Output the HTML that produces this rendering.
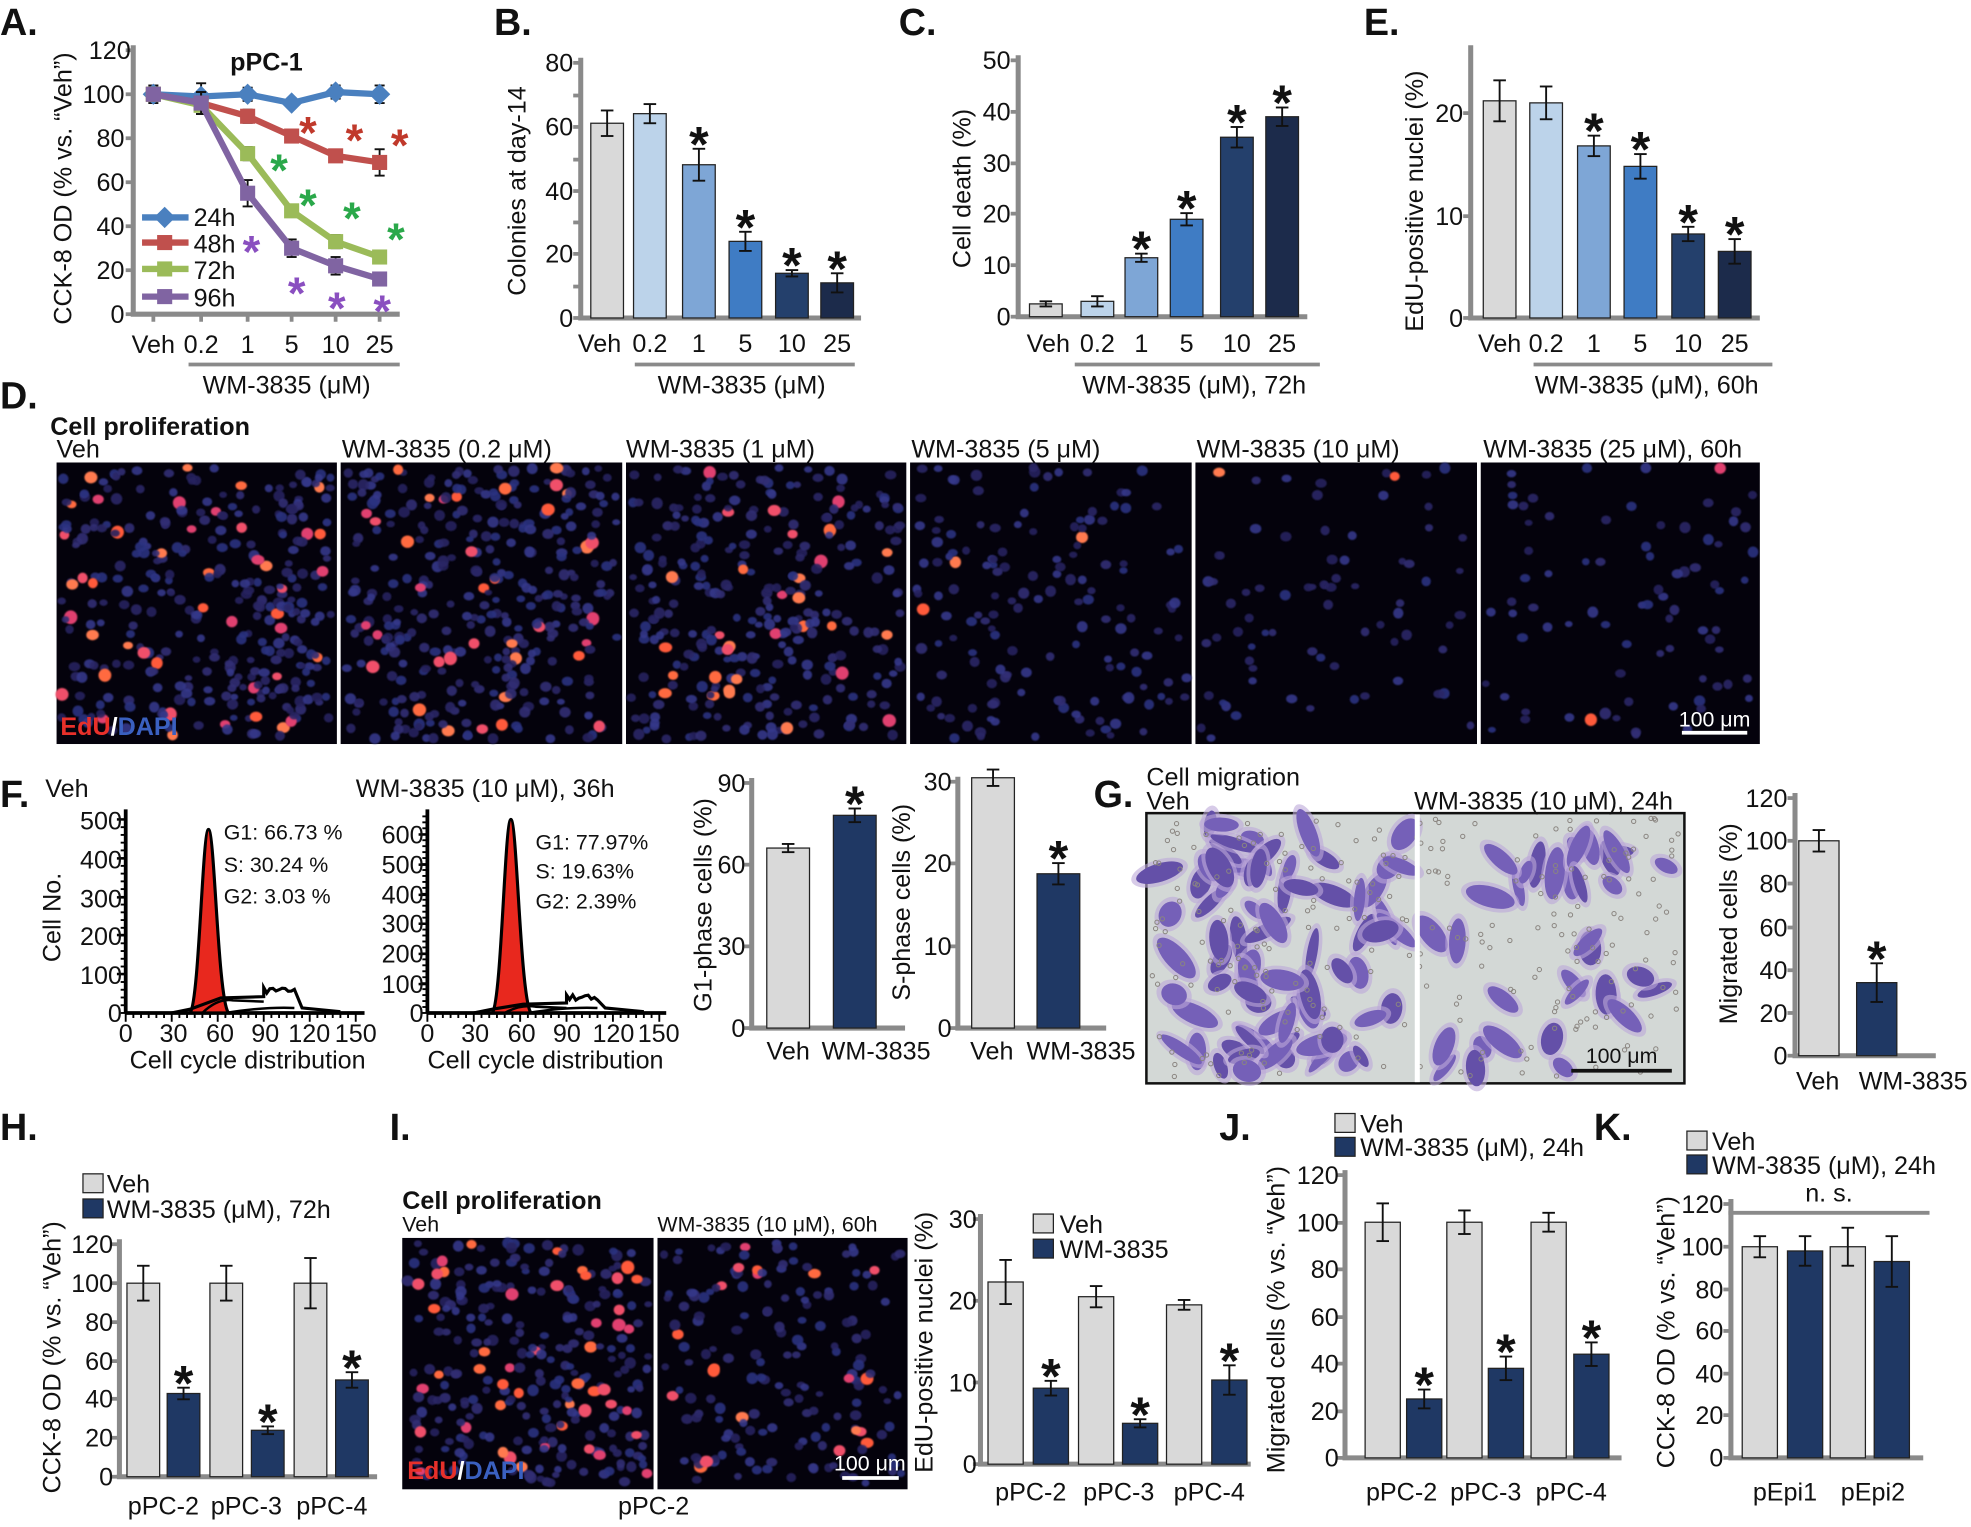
<!DOCTYPE html>
<html><head><meta charset="utf-8"><style>
html,body{margin:0;padding:0;background:#fff}
svg{display:block}
text{font-family:"Liberation Sans",Arial,sans-serif;fill:#111}
.t{font-size:20px}
.s{font-size:17px}
.L{font-size:30px;font-weight:bold}
.b{font-weight:bold}
.m{text-anchor:middle}
.e{text-anchor:end}
</style></head><body>
<svg id="s" xmlns="http://www.w3.org/2000/svg" width="1971" height="1527" viewBox="0 0 1568 1215" preserveAspectRatio="none">
<defs><filter id="bl" x="-50%" y="-50%" width="200%" height="200%"><feGaussianBlur stdDeviation="0.7"/></filter></defs>
<g id="g"></g>
<text class="L" x="0" y="28">A.</text><text class="L" x="393" y="28">B.</text><text class="L" x="715" y="28">C.</text><text class="L" x="1085" y="28">E.</text>
<text class="L" x="0" y="325">D.</text><text class="L" x="0" y="642">F.</text><text class="L" x="870" y="642">G.</text>
<text class="L" x="0" y="907">H.</text><text class="L" x="310" y="907">I.</text><text class="L" x="970" y="907">J.</text><text class="L" x="1268" y="907">K.</text>
<!-- A -->
<text class="t b m" x="212" y="56">pPC-1</text>
<g class="t e"><text x="104" y="47">120</text><text x="99" y="82">100</text><text x="99" y="117">80</text><text x="99" y="152">60</text><text x="99" y="187">40</text><text x="99" y="222">20</text><text x="99" y="257">0</text></g>
<g class="t m"><text x="122" y="281">Veh</text><text x="160" y="281">0.2</text><text x="197" y="281">1</text><text x="232" y="281">5</text><text x="267" y="281">10</text><text x="302" y="281">25</text><text x="228" y="313">WM-3835 (μM)</text></g>
<text class="t m" transform="translate(57,150) rotate(-90)">CCK-8 OD (% vs. “Veh”)</text>
<g class="t"><text x="154" y="180">24h</text><text x="154" y="201">48h</text><text x="154" y="222">72h</text><text x="154" y="244">96h</text></g>
<!-- B -->
<g class="t e"><text x="456" y="57">80</text><text x="456" y="108">60</text><text x="456" y="159">40</text><text x="456" y="209">20</text><text x="456" y="260">0</text></g>
<g class="t m"><text x="477" y="280">Veh</text><text x="517" y="280">0.2</text><text x="556" y="280">1</text><text x="593" y="280">5</text><text x="630" y="280">10</text><text x="666" y="280">25</text><text x="590" y="313">WM-3835 (μM)</text></g>
<text class="t m" transform="translate(418,152) rotate(-90)">Colonies at day-14</text>
<!-- C -->
<g class="t e"><text x="804" y="55">50</text><text x="804" y="96">40</text><text x="804" y="137">30</text><text x="804" y="177">20</text><text x="804" y="218">10</text><text x="804" y="259">0</text></g>
<g class="t m"><text x="834" y="280">Veh</text><text x="873" y="280">0.2</text><text x="908" y="280">1</text><text x="944" y="280">5</text><text x="984" y="280">10</text><text x="1020" y="280">25</text><text x="950" y="313">WM-3835 (μM), 72h</text></g>
<text class="t m" transform="translate(772,150) rotate(-90)">Cell death (%)</text>
<!-- E -->
<g class="t e"><text x="1164" y="97">20</text><text x="1164" y="179">10</text><text x="1164" y="260">0</text></g>
<g class="t m"><text x="1193" y="280">Veh</text><text x="1230" y="280">0.2</text><text x="1268" y="280">1</text><text x="1305" y="280">5</text><text x="1343" y="280">10</text><text x="1380" y="280">25</text><text x="1310" y="313">WM-3835 (μM), 60h</text></g>
<text class="t m" transform="translate(1132,160) rotate(-90)">EdU-positive nuclei (%)</text>
<!-- D -->
<text class="t b" x="40" y="346">Cell proliferation</text>
<g class="t"><text x="45" y="364">Veh</text><text x="272" y="364">WM-3835 (0.2 μM)</text><text x="498" y="364">WM-3835 (1 μM)</text><text x="725" y="364">WM-3835 (5 μM)</text><text x="952" y="364">WM-3835 (10 μM)</text><text x="1180" y="364">WM-3835 (25 μM), 60h</text></g>
<!-- F -->
<text class="t" x="36" y="634">Veh</text><text class="t" x="283" y="634">WM-3835 (10 μM), 36h</text>
<g class="t e"><text x="97" y="660">500</text><text x="97" y="691">400</text><text x="97" y="722">300</text><text x="97" y="752">200</text><text x="97" y="783">100</text><text x="97" y="813">0</text></g>
<g class="t m"><text x="100" y="829">0</text><text x="138" y="829">30</text><text x="175" y="829">60</text><text x="211" y="829">90</text><text x="246" y="829">120</text><text x="283" y="829">150</text></g>
<text class="t m" x="197" y="850">Cell cycle distribution</text>
<text class="t m" transform="translate(48,730) rotate(-90)">Cell No.</text>
<g class="s"><text x="178" y="668">G1: 66.73 %</text><text x="178" y="694">S: 30.24 %</text><text x="178" y="719">G2: 3.03 %</text></g>
<g class="t e"><text x="337" y="671">600</text><text x="337" y="695">500</text><text x="337" y="719">400</text><text x="337" y="742">300</text><text x="337" y="766">200</text><text x="337" y="790">100</text><text x="337" y="813">0</text></g>
<g class="t m"><text x="340" y="829">0</text><text x="378" y="829">30</text><text x="415" y="829">60</text><text x="451" y="829">90</text><text x="488" y="829">120</text><text x="524" y="829">150</text></g>
<text class="t m" x="434" y="850">Cell cycle distribution</text>
<g class="s"><text x="426" y="676">G1: 77.97%</text><text x="426" y="699">S: 19.63%</text><text x="426" y="723">G2: 2.39%</text></g>
<g class="t e"><text x="593" y="630">90</text><text x="593" y="695">60</text><text x="593" y="760">30</text><text x="593" y="825">0</text></g>
<g class="t m"><text x="627" y="843">Veh</text><text x="697" y="843">WM-3835</text></g>
<text class="t m" transform="translate(566,720) rotate(-90)">G1-phase cells (%)</text>
<g class="t e"><text x="757" y="629">30</text><text x="757" y="694">20</text><text x="757" y="760">10</text><text x="757" y="825">0</text></g>
<g class="t m"><text x="789" y="843">Veh</text><text x="860" y="843">WM-3835</text></g>
<text class="t m" transform="translate(724,718) rotate(-90)">S-phase cells (%)</text>
<!-- G -->
<text class="t" x="912" y="625">Cell migration</text><text class="t" x="912" y="644">Veh</text><text class="t" x="1125" y="644">WM-3835 (10 μM), 24h</text>
<g class="t e"><text x="1422" y="642">120</text><text x="1422" y="676">100</text><text x="1422" y="710">80</text><text x="1422" y="745">60</text><text x="1422" y="779">40</text><text x="1422" y="813">20</text><text x="1422" y="847">0</text></g>
<g class="t m"><text x="1446" y="867">Veh</text><text x="1522" y="867">WM-3835</text></g>
<text class="t m" transform="translate(1382,735) rotate(-90)">Migrated cells (%)</text>
<!-- H -->
<g class="t"><text x="85" y="949">Veh</text><text x="85" y="969">WM-3835 (μM), 72h</text></g>
<g class="t e"><text x="90" y="997">120</text><text x="90" y="1028">100</text><text x="90" y="1059">80</text><text x="90" y="1090">60</text><text x="90" y="1120">40</text><text x="90" y="1151">20</text><text x="90" y="1182">0</text></g>
<g class="t m"><text x="130" y="1205">pPC-2</text><text x="196" y="1205">pPC-3</text><text x="264" y="1205">pPC-4</text></g>
<text class="t m" transform="translate(48,1080) rotate(-90)">CCK-8 OD (% vs. “Veh”)</text>
<!-- I -->
<text class="t b" x="320" y="962">Cell proliferation</text>
<text class="s" x="320" y="980">Veh</text><text class="s" x="523" y="980">WM-3835 (10 μM), 60h</text>
<text class="t m" x="520" y="1205">pPC-2</text>
<g class="t e"><text x="777" y="977">30</text><text x="777" y="1042">20</text><text x="777" y="1107">10</text><text x="777" y="1172">0</text></g>
<g class="t"><text x="843" y="981">Veh</text><text x="843" y="1001">WM-3835</text></g>
<g class="t m"><text x="820" y="1194">pPC-2</text><text x="890" y="1194">pPC-3</text><text x="962" y="1194">pPC-4</text></g>
<text class="t m" transform="translate(742,1068) rotate(-90)">EdU-positive nuclei (%)</text>
<!-- J -->
<g class="t"><text x="1082" y="901">Veh</text><text x="1082" y="920">WM-3835 (μM), 24h</text></g>
<g class="t e"><text x="1065" y="942">120</text><text x="1065" y="980">100</text><text x="1065" y="1017">80</text><text x="1065" y="1055">60</text><text x="1065" y="1092">40</text><text x="1065" y="1130">20</text><text x="1065" y="1167">0</text></g>
<g class="t m"><text x="1115" y="1194">pPC-2</text><text x="1182" y="1194">pPC-3</text><text x="1250" y="1194">pPC-4</text></g>
<text class="t m" transform="translate(1022,1050) rotate(-90)">Migrated cells (% vs. “Veh”)</text>
<!-- K -->
<g class="t"><text x="1362" y="915">Veh</text><text x="1362" y="934">WM-3835 (μM), 24h</text></g>
<text class="t m" x="1455" y="956">n. s.</text>
<g class="t e"><text x="1371" y="965">120</text><text x="1371" y="999">100</text><text x="1371" y="1033">80</text><text x="1371" y="1066">60</text><text x="1371" y="1100">40</text><text x="1371" y="1133">20</text><text x="1371" y="1167">0</text></g>
<g class="t m"><text x="1420" y="1194">pEpi1</text><text x="1490" y="1194">pEpi2</text></g>
<text class="t m" transform="translate(1332,1060) rotate(-90)">CCK-8 OD (% vs. “Veh”)</text>
<text class="t b" x="48" y="585" style="fill:#e8302a">EdU<tspan style="fill:#fff">/</tspan><tspan style="fill:#3a60c0">DAPI</tspan></text>
<text class="s m" x="1364" y="578" style="fill:#fff">100 μm</text>
<text class="s m" x="1290" y="846">100 μm</text>
<text class="t b" x="324" y="1177" style="fill:#e8302a">EdU<tspan style="fill:#fff">/</tspan><tspan style="fill:#3a60c0">DAPI</tspan></text>
<text class="s m" x="692" y="1170" style="fill:#fff">100 μm</text>
</svg>
<script>
var NS="http://www.w3.org/2000/svg",G=document.getElementById("g");
function el(t,a,p){var e=document.createElementNS(NS,t);for(var k in a)e.setAttribute(k,a[k]);(p||G).appendChild(e);return e}
var AX="#8a8a8a";
function axis(x,y0,yt,ticks,xe,col){col=col||AX;el("line",{x1:x,y1:yt-4,x2:x,y2:y0,stroke:col,"stroke-width":4});el("line",{x1:x-2,y1:y0,x2:xe,y2:y0,stroke:col,"stroke-width":4});ticks.forEach(function(t){el("line",{x1:x-6,y1:t,x2:x,y2:t,stroke:col,"stroke-width":3})})}
function star(x,y,c,sz){var t=el("text",{x:x,y:y,"text-anchor":"middle","font-size":sz||40,"font-weight":"bold",style:"fill:"+(c||"#111")});t.textContent="*"}
function bar(cx,w,y0,sc,v,er,c,st){var top=y0-v*sc;el("rect",{x:cx-w/2,y:top,width:w,height:v*sc,fill:c,stroke:"#222","stroke-width":1});if(er){el("line",{x1:cx,y1:top-er*sc,x2:cx,y2:top+er*sc,stroke:"#111","stroke-width":1.5});[top-er*sc,top+er*sc].forEach(function(y){el("line",{x1:cx-5,y1:y,x2:cx+5,y2:y,stroke:"#111","stroke-width":1.5})})}
 if(st)star(cx,top-er*sc+10);}
function hl(x1,x2,y){el("line",{x1:x1,y1:y,x2:x2,y2:y,stroke:AX,"stroke-width":3})}
var P=["#d9d9d9","#bcd3ea","#7ea6d6","#3f7cc4","#24406c","#1c2b4b"],GR="#d9d9d9",NV="#1f3864";
// A
axis(106,250,40,[40,75,110,145,180,215,250],318);
[122,160,197,232,267,302].forEach(function(x){el("line",{x1:x,y1:250,x2:x,y2:256,stroke:AX,"stroke-width":3})});
hl(150,318,290);
var X=[122,160,197,232,267,302];
var S=[[100,99,100,96,101,100],[100,96,90,81,72,69],[100,95,73,47,33,26],[100,96,55,30,22,16]];
var C=["#4a80bf","#c0504d","#9bbb59","#8064a2"];
var E=[[4,6,3,2,3,4],[3,5,3,2,2,6],[2,4,3,2,3,2],[2,5,6,4,4,2]];
S.forEach(function(s,i){var pts=s.map(function(v,j){return X[j]+","+(250-v*1.75)}).join(" ");
 s.forEach(function(v,j){var y=250-v*1.75,e=E[i][j]*1.75;el("line",{x1:X[j],y1:y-e,x2:X[j],y2:y+e,stroke:"#111","stroke-width":1.5});el("line",{x1:X[j]-4,y1:y-e,x2:X[j]+4,y2:y-e,stroke:"#111","stroke-width":1.5});el("line",{x1:X[j]-4,y1:y+e,x2:X[j]+4,y2:y+e,stroke:"#111","stroke-width":1.5})});
 el("polyline",{points:pts,fill:"none",stroke:C[i],"stroke-width":5});
 s.forEach(function(v,j){var y=250-v*1.75;el("rect",{x:X[j]-6,y:y-6,width:12,height:12,fill:C[i],transform:i==0?"rotate(45 "+X[j]+" "+y+")":""})});
 var ly=[173,193,214,236][i];el("line",{x1:113,y1:ly,x2:150,y2:ly,stroke:C[i],"stroke-width":5});el("rect",{x:125,y:ly-6,width:12,height:12,fill:C[i],transform:i==0?"rotate(45 131 "+ly+")":""});});
[[245,118],[282,124],[318,128]].forEach(function(p){star(p[0],p[1],"#c0392b",36)});
[[222,148],[245,176],[280,186],[315,203]].forEach(function(p){star(p[0],p[1],"#2aa84a",36)});
[[200,213],[236,246],[268,258],[304,260]].forEach(function(p){star(p[0],p[1],"#8a4fc0",36)});
// B
axis(462,253,50,[50,76,101,127,152,177,202,228,253],685);hl(505,680,290);
[[483,61,4],[517,64,3],[556,48,5,1],[593,24,3,1],[630,14,1,1],[666,11,3,1]].forEach(function(d,i){bar(d[0],26,253,2.54,d[1],d[2],P[i],d[3])});
// C
axis(810,252,48,[48,89,130,170,211,252],1040);hl(855,1050,290);
[[832,2.5,.5],[873,3,1],[908,11.5,.8,1],[944,19,1.2,1],[984,35,2,1],[1020,39,1.8,1]].forEach(function(d,i){bar(d[0],26,252,4.08,d[1],d[2],P[i],d[3])});
// E
axis(1170,253,40,[90,172,253],1400);hl(1220,1410,290);
[[1193,21.2,2],[1230,21,1.6],[1268,16.8,1,1],[1305,14.8,1.2,1],[1343,8.2,.7,1],[1380,6.5,1.2,1]].forEach(function(d,i){bar(d[0],26,253,8.15,d[1],d[2],P[i],d[3])});
// microscopy
var seed=7;function rnd(){seed=(seed*16807)%2147483647;return seed/2147483647}
var BL=["#2a2866","#302e74","#26245e","#34388a","#2c3380"],RD=["#ff6a40","#f0506a","#ff7a50","#e04070","#ff5a3a"];
function cells(x,y,w,h,n,rf){el("rect",{x:x,y:y,width:w,height:h,fill:"#04020c"});
 for(var i=0;i<n;i++){var cx=x+4+rnd()*(w-8),cy=y+4+rnd()*(h-8),r=3+rnd()*1.6,red=rnd()<rf;
 el("ellipse",{cx:cx,cy:cy,rx:red?r+0.8:r,ry:(red?r+0.8:r)*(0.75+rnd()*0.3),fill:red?RD[Math.floor(rnd()*5)]:BL[Math.floor(rnd()*5)],opacity:red?1:0.9,filter:"url(#bl)"})}}
var D=[[45,268,330,.15],[271,495,340,.1],[498,721,300,.09],[724,948,150,.04],[951,1175,75,.03],[1178,1400,80,.03]];
D.forEach(function(d){cells(d[0],368,d[1]-d[0],224,d[2],d[3])});
el("line",{x1:1338,y1:583,x2:1390,y2:583,stroke:"#fff","stroke-width":3});
cells(320,985,200,200,280,.15);cells(523,985,199,200,170,.08);
el("line",{x1:521.5,y1:985,x2:521.5,y2:1185,stroke:"#fff","stroke-width":3});
el("line",{x1:670,y1:1176,x2:715,y2:1176,stroke:"#fff","stroke-width":3});
// F histograms
function hist(x0,xu,yu,px,ph,xe,yticks){
 var yb=806;el("line",{x1:x0,y1:644,x2:x0,y2:yb,stroke:"#000","stroke-width":3});el("line",{x1:x0,y1:yb,x2:xe,y2:yb,stroke:"#000","stroke-width":3});
 for(var y=yb;y>646;y-=yu*20)el("line",{x1:x0-4,y1:y,x2:x0,y2:y,stroke:"#000","stroke-width":1.5});
 yticks.forEach(function(y){el("line",{x1:x0-7,y1:y,x2:x0,y2:y,stroke:"#000","stroke-width":2})});
 for(var u=0;u<=150;u+=5)el("line",{x1:x0+u*xu,y1:yb,x2:x0+u*xu,y2:yb+(u%30?4:7),stroke:"#000","stroke-width":1.5});
 function X(u){return x0+u*xu}
 var p="M"+X(42)+","+yb+" C"+X(48)+","+(yb-10)+" "+X(50)+","+ph+" "+X(54)+","+ph+" C"+X(58)+","+ph+" "+X(60)+","+(yb-12)+" "+X(67)+","+yb+" Z";
 el("path",{d:p,fill:"#e8281e",stroke:"#000","stroke-width":2.5});
 var sh=(px==1)?12:7;
 var q="M"+X(30)+","+yb+" L"+X(42)+","+(yb-3)+" L"+X(62)+","+(yb-sh)+" L"+X(90)+","+(yb-sh-1);
 for(var u=90;u<=110;u+=2)q+=" L"+X(u)+","+(yb-sh-3-rnd()*6);
 q+=" L"+X(115)+","+(yb-4)+" L"+X(140)+","+(yb-1);
 el("path",{d:q,fill:"none",stroke:"#000","stroke-width":2.5});
 el("path",{d:"M"+X(50)+","+yb+" Q"+X(60)+","+(yb-sh)+" "+X(70)+","+(yb-sh+2)+" L"+X(90)+","+(yb-sh+3),fill:"none",stroke:"#000","stroke-width":2});
 el("path",{d:"M"+X(65)+","+yb+" Q"+X(90)+","+(yb-5)+" "+X(110)+","+(yb-4),fill:"none",stroke:"#000","stroke-width":2});}
hist(100,1.22,0.308,1,660,290,[652,683,714,744,775]);hist(340,1.23,0.237,2,652,530,[664,688,712,735,759,783]);
// F bars
axis(598,818,623,[623,688,753,818],720);bar(627,34,818,2.17,66,1.5,GR);bar(680,34,818,2.17,78,2.5,NV,1);
axis(762,818,622,[622,687,753,818],880);bar(790,34,818,6.53,30.5,1,GR);bar(842,34,818,6.53,18.8,1.3,NV,1);
// G image
el("rect",{x:912,y:647,width:428,height:215,fill:"#d3d8d6",stroke:"#111","stroke-width":2});
function blobs(x,w,n){for(var i=0;i<n;i++){var cx=x+8+rnd()*(w-16),cy=655+rnd()*198,rx=9+rnd()*12,ry=4+rnd()*5,a=rnd()*180,tr="rotate("+a+" "+cx+" "+cy+")";
 el("ellipse",{cx:cx,cy:cy,rx:rx+4,ry:ry+3,fill:"#bda9d8",opacity:.6,transform:tr});
 el("ellipse",{cx:cx,cy:cy,rx:rx,ry:ry,fill:rnd()<.5?"#7560b8":"#6450a8",transform:tr})}}
blobs(913,213,75);blobs(1130,208,35);
for(var i=0;i<260;i++){var cx=915+rnd()*420,cy=650+rnd()*208;el("circle",{cx:cx,cy:cy,r:1.7,fill:"none",stroke:"#8a8580","stroke-width":.8})}
el("line",{x1:1127.5,y1:648,x2:1127.5,y2:861,stroke:"#fff","stroke-width":4});
el("line",{x1:1250,y1:852,x2:1330,y2:852,stroke:"#111","stroke-width":3});
// G bars
axis(1428,840,635,[635,669,703,738,772,806,840],1540);bar(1447,32,840,1.71,100,5,GR);bar(1493,32,840,1.71,34,9,NV,1);
// H
el("rect",{x:66,y:934,width:16,height:15,fill:GR,stroke:"#222"});el("rect",{x:66,y:954,width:16,height:15,fill:NV,stroke:"#222"});
axis(95,1175,990,[990,1021,1052,1083,1113,1144,1175],300);
[[114,100,9,GR],[146,43,3,NV,1],[180,100,9,GR],[213,24,2,NV,1],[247,100,13,GR],[280,50,4,NV,1]].forEach(function(d){bar(d[0],26,1175,1.54,d[1],d[2],d[3],d[4])});
// I bars
el("rect",{x:822,y:966,width:16,height:15,fill:GR,stroke:"#222"});el("rect",{x:822,y:986,width:16,height:15,fill:NV,stroke:"#222"});
axis(780,1165,970,[970,1035,1100,1165],995);
[[800,22.3,2.7,GR],[836,9.3,.9,NV,1],[872,20.5,1.3,GR],[907,5,.5,NV,1],[942,19.5,.6,GR],[978,10.3,1.8,NV,1]].forEach(function(d){bar(d[0],28,1165,6.5,d[1],d[2],d[3],d[4])});
// J
el("rect",{x:1062,y:886,width:16,height:15,fill:GR,stroke:"#222"});el("rect",{x:1062,y:905,width:16,height:15,fill:NV,stroke:"#222"});
axis(1070,1160,935,[935,973,1010,1048,1085,1123,1160],1290);
[[1100,100,8,GR],[1133,25,4,NV,1],[1165,100,5,GR],[1198,38,5,NV,1],[1232,100,4,GR],[1266,44,5,NV,1]].forEach(function(d){bar(d[0],28,1160,1.875,d[1],d[2],d[3],d[4])});
// K
el("rect",{x:1342,y:900,width:16,height:15,fill:GR,stroke:"#222"});el("rect",{x:1342,y:919,width:16,height:15,fill:NV,stroke:"#222"});
hl(1375,1535,965);
axis(1377,1160,958,[958,992,1026,1059,1093,1126,1160],1530);
[[1400,100,5,GR],[1436,98,7,NV],[1470,100,9,GR],[1505,93,12,NV]].forEach(function(d){bar(d[0],28,1160,1.68,d[1],d[2],d[3])});
</script>
</body></html>
